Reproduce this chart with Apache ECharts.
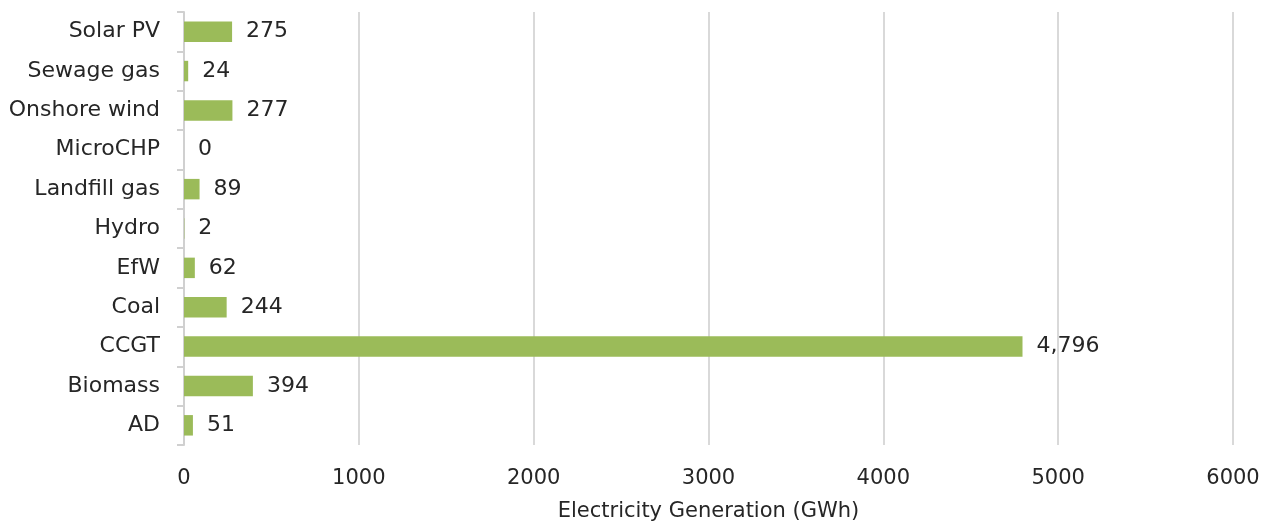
<!DOCTYPE html>
<html>
<head>
<meta charset="utf-8">
<script src="https://cdn.jsdelivr.net/npm/echarts@6/dist/echarts.min.js"></script>
<style>
  html, body { margin: 0; padding: 0; background: #ffffff; }
  #chart { width: 1272px; height: 527px; }
</style>
</head>
<body>
<div id="chart"></div>
<script>
// Generation sources, listed bottom to top as they appear on the category axis
const categories = ['AD', 'Biomass', 'CCGT', 'Coal', 'EfW', 'Hydro', 'Landfill gas', 'MicroCHP', 'Onshore wind', 'Sewage gas', 'Solar PV'];
// Electricity generation per source (GWh)
const generation = [51, 394, 4796, 244, 62, 2, 89, 0, 277, 24, 275];
// Value axis
const axisMin = 0;
const axisMax = 6000;
const axisStep = 1000;
const axisTitle = 'Electricity Generation (GWh)';

const FONT = '"DejaVu Sans", "Noto Sans", sans-serif';
const TEXT = '#262626';
const chart = echarts.init(document.getElementById('chart'), null, { renderer: 'canvas' });

chart.setOption({
  backgroundColor: '#ffffff',
  animation: false,
  grid: { left: 184, right: 39, top: 12, bottom: 82, containLabel: false },
  xAxis: {
    type: 'value',
    min: axisMin,
    max: axisMax,
    interval: axisStep,
    name: axisTitle,
    nameLocation: 'middle',
    nameGap: 56,
    nameTextStyle: { fontFamily: FONT, fontSize: 21, color: TEXT },
    axisLine: { show: false },
    axisTick: { show: false },
    axisLabel: {
      fontFamily: FONT, fontSize: 21, color: TEXT, margin: 23,
      formatter: v => String(v)
    },
    splitLine: { show: true, lineStyle: { color: '#d9d9d9', width: 2 } }
  },
  yAxis: {
    type: 'category',
    data: categories,
    axisLine: { show: true, lineStyle: { color: '#d0d0d0', width: 2 } },
    axisTick: { show: true, length: 7, lineStyle: { color: '#d0d0d0', width: 2 } },
    axisLabel: { fontFamily: FONT, fontSize: 22, color: TEXT, margin: 24 },
    splitLine: { show: false }
  },
  series: [{
    type: 'bar',
    data: generation,
    barCategoryGap: '48%',
    itemStyle: { color: '#9bbb59' },
    label: {
      show: true,
      position: 'right',
      distance: 14,
      fontFamily: FONT,
      fontSize: 22,
      color: TEXT,
      formatter: p => p.value.toLocaleString('en-US')
    }
  }]
});
</script>
</body>
</html>
